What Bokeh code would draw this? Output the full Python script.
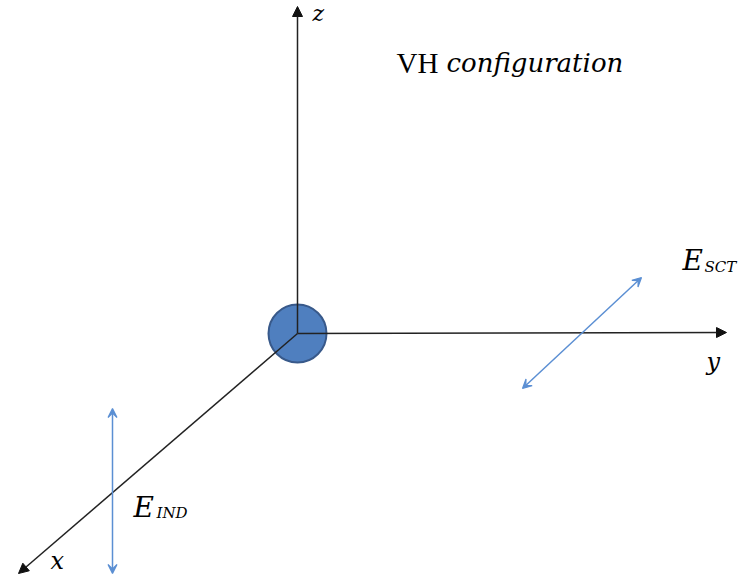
from bokeh.plotting import figure
from bokeh.models import Range1d, ColumnDataSource, Arrow, NormalHead, VeeHead
from bokeh.core.properties import value
from bokeh.embed import file_html
from bokeh.resources import INLINE

# Diagram geometry (page-pixel coordinates, y downward)
origin = (297, 333)
axis_names = ["z", "y", "x"]
axis_x_end = [297, 726, 18]
axis_y_end = [6, 332, 573]

field_names = ["E_IND", "E_SCT"]
field_x0 = [112, 522]
field_y0 = [408, 388]
field_x1 = [112, 641]
field_y1 = [573, 277]

particle_x = [297]
particle_y = [333]
particle_r = [29]

# Labels
label_text = ["z", "y", "x"]
label_x = [312, 706, 50]
label_y = [13, 361, 560]
label_size = ["22px", "24px", "24px"]

W, H = 741, 578
p = figure(width=W, height=H, output_backend="svg", toolbar_location=None,
           x_range=Range1d(0, W), y_range=Range1d(H, 0),
           min_border=0, outline_line_color=None)
p.axis.visible = False
p.grid.visible = False
p.background_fill_color = "white"

axis_src = ColumnDataSource(dict(x0=[origin[0]] * 3, y0=[origin[1]] * 3,
                                 x1=axis_x_end, y1=axis_y_end, name=axis_names))
p.add_layout(Arrow(end=NormalHead(size=10, fill_color="#111111", line_color="#111111", line_width=1),
                   x_start="x0", y_start="y0", x_end="x1", y_end="y1",
                   line_color="#222222", line_width=1.5, source=axis_src))

field_src = ColumnDataSource(dict(x0=field_x0, y0=field_y0, x1=field_x1, y1=field_y1, name=field_names))
blue = "#5b8fd3"
p.add_layout(Arrow(start=VeeHead(size=9, fill_color=blue, line_color=blue, line_width=1.2),
                   end=VeeHead(size=9, fill_color=blue, line_color=blue, line_width=1.2),
                   x_start="x0", y_start="y0", x_end="x1", y_end="y1",
                   line_color=blue, line_width=1.5, source=field_src))

p.circle(x=particle_x, y=particle_y, radius=particle_r[0],
         fill_color="#4f7fbf", line_color="#38598a", line_width=2)

serif = value("Liberation Serif")
iserif = value("DejaVu Serif")
label_src = ColumnDataSource(dict(x=label_x, y=label_y, text=label_text, size=label_size))
p.text(x="x", y="y", text="text", text_font_size="size", source=label_src,
       text_font=iserif, text_font_style="italic",
       text_color="black", text_baseline="alphabetic", text_align="left")

# VH configuration
p.text(x=[396], y=[62], text=["VH"], text_font=serif, text_font_style="normal",
       text_font_size="29px", text_color="black", text_baseline="alphabetic")
p.text(x=[446], y=[62], text=["configuration"], text_font=iserif, text_font_style="italic",
       text_font_size="26px", text_color="black", text_baseline="alphabetic")

# Field labels: E with subscript
e_x = [133, 682]
e_y = [507, 260]
sub_text = ["IND", "SCT"]
sub_x = [156, 704]
sub_y = [512, 266]
p.text(x=e_x, y=e_y, text=["E", "E"], text_font=iserif, text_font_style="italic",
       text_font_size="28px", text_color="black", text_baseline="alphabetic")
p.text(x=sub_x, y=sub_y, text=sub_text, text_font=iserif, text_font_style="italic",
       text_font_size="15px", text_color="black", text_baseline="alphabetic")

open("out.html", "w").write(file_html(p, INLINE))
